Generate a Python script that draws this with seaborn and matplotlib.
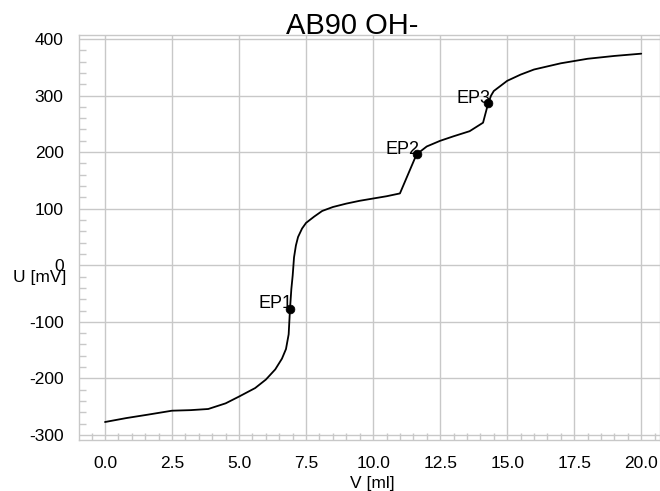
import pandas as pd
import matplotlib
matplotlib.use("Agg")
import matplotlib.pyplot as plt
import seaborn as sns
from matplotlib.ticker import MultipleLocator, FormatStrFormatter

# ==========================
# Data
# ==========================

volume = [0.0, 0.8, 1.6, 2.5, 3.2, 3.85, 4.5, 5.0, 5.6, 6.0, 6.35, 6.6, 6.75, 6.85,
          6.9, 6.95, 7.0, 7.05, 7.12, 7.2, 7.35, 7.5, 7.8, 8.1, 8.5, 9.0, 9.5, 10.0,
          10.5, 11.0, 11.62, 12.0, 12.5, 13.0, 13.6, 14.1, 14.29, 14.4, 14.5, 14.75,
          15.0, 15.5, 16.0, 17.0, 17.5, 18.0, 19.0, 20.0]
potential = [-277, -270, -264, -257, -256, -254, -244, -232, -217, -202, -184, -165,
             -148, -122, -77, -42, -18, 14, 35, 50, 65, 75, 86, 96, 103, 109, 114, 118,
             122, 127, 196, 210, 220, 228, 237, 252, 286, 300, 308, 317, 326, 337, 346,
             357, 361, 365, 370, 374]

ep_names = ["EP1", "EP2", "EP3"]
ep_volume = [6.9, 11.62, 14.29]
ep_potential = [-77, 196, 286]

# ==========================
# Style
# ==========================

sns.set_style("white")
plt.rcParams["font.family"] = ["Liberation Sans", "DejaVu Sans"]
plt.rcParams["text.color"] = "black"
plt.rcParams["axes.labelcolor"] = "black"
plt.rcParams["axes.unicode_minus"] = False
grid_c = "#c8c8c8"

fig = plt.figure(figsize=(6.6, 4.91), dpi=100)
ax = fig.add_axes([79 / 660, 1 - 440 / 491, 581 / 660, 405 / 491])

# ==========================
# Curve and end points
# ==========================

df = pd.DataFrame({"V": volume, "U": potential})
sns.lineplot(data=df, x="V", y="U", color="black", linewidth=1.3,
             sort=False, estimator=None, ax=ax)

ep_df = pd.DataFrame({"V": ep_volume, "U": ep_potential, "name": ep_names})
sns.scatterplot(data=ep_df, x="V", y="U", color="black", s=40,
                edgecolor="black", ax=ax, zorder=3)

for name, v, u in zip(ep_names, ep_volume, ep_potential):
    ax.annotate(name, (v, u), xytext=(2, 3.5), textcoords="offset points",
                ha="right", va="center", fontsize=13, color="black")

# ==========================
# Axes
# ==========================

ax.set_xlim(-0.97, 20.7)
ax.set_ylim(-308.8, 407)
ax.xaxis.set_major_locator(MultipleLocator(2.5))
ax.xaxis.set_minor_locator(MultipleLocator(0.5))
ax.yaxis.set_major_locator(MultipleLocator(100))
ax.yaxis.set_minor_locator(MultipleLocator(20))
ax.xaxis.set_major_formatter(FormatStrFormatter("%.1f"))

ax.grid(True, which="major", color=grid_c, linewidth=1)
ax.set_axisbelow(True)

ax.tick_params(axis="x", which="major", direction="inout", length=16, width=1,
               color=grid_c, pad=3.5, labelsize=12.5, labelcolor="black")
ax.tick_params(axis="y", which="major", direction="inout", length=10, width=1,
               color=grid_c, pad=6, labelsize=12.5, labelcolor="black")
ax.tick_params(which="minor", direction="in", length=5, width=1, color=grid_c,
               bottom=True, left=True)

for side in ["left", "bottom", "top", "right"]:
    ax.spines[side].set_color(grid_c)
    ax.spines[side].set_linewidth(1)

ax.set_xlabel("V [ml]", fontsize=12.5, color="black")
ax.xaxis.set_label_coords(0.504, -0.088)
ax.set_ylabel("U [mV]", fontsize=12.5, rotation=0, ha="center", va="center",
              color="black")
ax.yaxis.set_label_coords(-0.067, 0.402)

ax.text(0.4707, 1.0025, "AB90 OH-", transform=ax.transAxes,
        ha="center", va="baseline", fontsize=21, color="black")

fig.savefig("out.png", dpi=100)
